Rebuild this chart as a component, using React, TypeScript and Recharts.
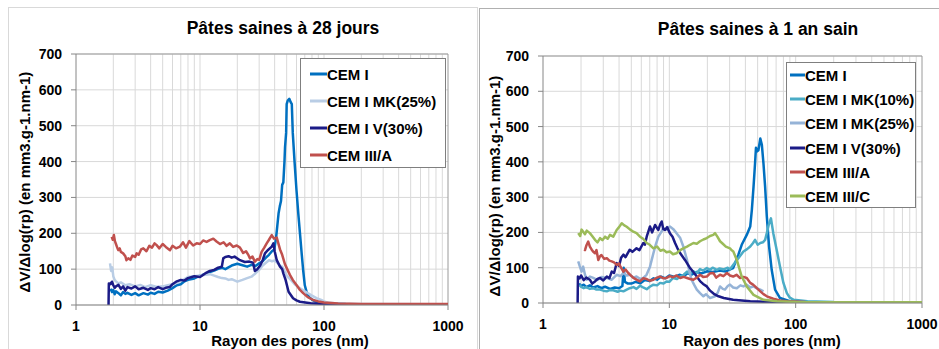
import React from "react";
import {
  LineChart,
  Line,
  XAxis,
  YAxis,
  CartesianGrid,
  ReferenceLine,
} from "recharts";

type Pair = [number, number];

const FONT = '"Liberation Sans", Arial, sans-serif';

// axes
const xTicks = [1, 10, 100, 1000];
const yTicks = [0, 100, 200, 300, 400, 500, 600, 700];
const minorX = [
  2, 3, 4, 5, 6, 7, 8, 9, 10, 20, 30, 40, 50, 60, 70, 80, 90, 100, 200, 300,
  400, 500, 600, 700, 800, 900,
];

const titles = ["Pâtes saines à 28 jours", "Pâtes saines à 1 an sain"];
const xLabel = "Rayon des pores (nm)";
const yLabel = "ΔV/Δlog(rp) (en mm3.g-1.nm-1)";

// --- 28 jours: [rayon nm, dV/dlog] ---
const cemI28: Pair[] = [
  [1.9, 45], [1.95, 36], [2.0, 42], [2.05, 30], [2.1, 38], [2.2, 33], [2.3, 27],
  [2.4, 36], [2.5, 31], [2.6, 34], [2.8, 28], [3.0, 33], [3.2, 27], [3.5, 33],
  [3.8, 29], [4.0, 34], [4.3, 31], [4.6, 37], [5.0, 35], [5.5, 40], [6.0, 47],
  [6.5, 55], [7.0, 58], [7.5, 66], [8.0, 70], [9.0, 74], [10, 82], [11, 86],
  [12, 92], [13, 96], [14, 101], [15, 104], [16, 100], [18, 110], [20, 115],
  [22, 111], [24, 107], [26, 112], [28, 109], [30, 116], [32, 122], [34, 132],
  [36, 140], [38, 150], [39.7, 155], [41, 185], [42, 220], [43, 255], [44, 275],
  [45, 290], [46, 335], [47, 342], [48, 400], [48.5, 440], [49.5, 480],
  [50, 560], [51, 570], [52.5, 575], [54, 565], [55, 560], [56, 480], [58, 395],
  [60, 320], [62, 256], [64, 200], [66, 145], [68, 95], [70, 55], [73, 32],
  [76, 22], [80, 15], [85, 10], [90, 7], [100, 5], [150, 3], [300, 2], [1000, 2],
];

const mk25_28: Pair[] = [
  [1.88, 116], [1.92, 95], [1.96, 105], [2.0, 80], [2.05, 70], [2.1, 66],
  [2.2, 60], [2.3, 63], [2.5, 55], [2.7, 58], [3.0, 52], [3.3, 56], [3.6, 50],
  [4.0, 55], [4.5, 50], [5.0, 52], [5.5, 55], [6.0, 58], [6.5, 62], [7.0, 68],
  [7.5, 72], [8.0, 78], [9.0, 80], [10, 82], [11, 84], [12, 86], [13, 82],
  [14, 78], [15, 75], [16, 74], [17, 70], [18, 72], [20, 65], [22, 70],
  [24, 75], [26, 79], [28, 88], [30, 98], [32, 110], [34, 118], [36, 125],
  [38, 122], [40, 124], [42, 118], [44, 110], [46, 107], [48, 95], [50, 82],
  [54, 70], [58, 58], [62, 50], [66, 44], [70, 38], [75, 32], [80, 26],
  [87, 19], [95, 14], [100, 10], [110, 6], [130, 4], [200, 3], [1000, 2],
];

const v30_28: Pair[] = [
  [1.83, 0], [1.84, 60], [1.9, 58], [1.95, 65], [2.0, 55], [2.05, 48],
  [2.1, 52], [2.2, 56], [2.3, 45], [2.4, 52], [2.5, 40], [2.6, 50], [2.8, 46],
  [3.0, 52], [3.2, 44], [3.5, 48], [3.8, 42], [4.0, 47], [4.3, 44], [4.6, 50],
  [5.0, 44], [5.3, 48], [5.7, 50], [6.0, 58], [6.5, 66], [7.0, 70], [7.5, 68],
  [8.0, 75], [9.0, 80], [10, 78], [11, 88], [12, 95], [13, 98], [14, 104],
  [15, 107], [15.4, 130], [16, 134], [17, 136], [18, 132], [19, 135], [21, 125],
  [23, 120], [25, 121], [26.8, 118], [27.7, 95], [29, 100], [30.6, 110],
  [32, 125], [33.4, 144], [35, 152], [37.9, 163], [39.1, 172], [40, 150],
  [41.6, 125], [44.2, 107], [46, 100], [47, 88], [49, 70], [51.8, 37],
  [56.3, 19], [60, 13], [64, 9], [78, 5], [100, 3], [200, 2], [1000, 2],
];

const cemIIIA28: Pair[] = [
  [1.94, 190], [1.98, 182], [2.02, 195], [2.06, 178], [2.1, 170], [2.15, 160],
  [2.19, 153], [2.25, 158], [2.3, 148], [2.4, 144], [2.5, 136], [2.55, 125],
  [2.64, 130], [2.75, 126], [2.85, 138], [3.0, 134], [3.08, 144], [3.2, 140],
  [3.35, 155], [3.49, 158], [3.7, 150], [3.9, 165], [4.1, 160], [4.3, 172],
  [4.47, 167], [4.7, 158], [5.0, 170], [5.3, 162], [5.73, 153], [6.0, 165],
  [6.4, 158], [6.9, 163], [7.3, 175], [7.7, 160], [8.2, 178], [8.8, 166],
  [9.4, 172], [10, 170], [10.6, 180], [11.3, 176], [12, 181], [12.8, 185],
  [13.6, 177], [14.5, 170], [15.5, 175], [16.4, 165], [17.4, 172], [18.5, 162],
  [19.8, 166], [21, 160], [22.3, 145], [23.5, 150], [24.6, 139], [25.3, 130],
  [26.5, 135], [27.7, 121], [29, 128], [30, 126], [31.4, 148], [33, 160],
  [34.5, 172], [36, 182], [37.9, 195], [39.5, 185], [41.6, 188], [43, 170],
  [44.2, 155], [46, 140], [48.4, 114], [50.5, 100], [53.1, 84], [56, 70],
  [60, 56], [64, 42], [67.9, 33], [74, 22], [81.8, 14], [90, 10], [100, 7],
  [130, 4], [200, 3], [1000, 3],
];

// --- 1 an: [rayon nm, dV/dlog] ---
const cemI1an: Pair[] = [
  [1.93, 55], [2.0, 48], [2.1, 52], [2.2, 45], [2.35, 50], [2.5, 44], [2.7, 48],
  [2.9, 42], [3.1, 46], [3.4, 40], [3.7, 44], [4.0, 42], [4.25, 48], [4.35, 100],
  [4.45, 60], [4.7, 55], [5.0, 55], [5.4, 60], [5.9, 56], [6.4, 65], [7.0, 62],
  [7.5, 70], [8.0, 66], [8.6, 75], [9.3, 70], [10, 78], [11, 74], [12, 80],
  [13, 76], [14, 85], [15, 80], [16.5, 88], [18, 84], [20, 90], [22, 88],
  [25, 92], [28, 89], [30, 95], [32, 99], [35.2, 137], [37.4, 165], [41, 193],
  [43.7, 217], [45, 264], [46.4, 330], [47.7, 396], [48.5, 440], [49.2, 429],
  [50.7, 433], [52.5, 466], [54, 448], [55.6, 396], [57.3, 330], [59.1, 245],
  [61.6, 160], [64.6, 94], [68.7, 38], [75.2, 14], [90, 5], [120, 3], [1000, 2],
];

const mk10_1an: Pair[] = [
  [1.94, 52], [2.0, 46], [2.1, 42], [2.2, 45], [2.35, 40], [2.5, 42],
  [2.65, 38], [2.83, 38], [3.0, 35], [3.2, 33], [3.4, 37], [3.6, 36], [3.9, 32],
  [4.1, 35], [4.33, 33], [4.6, 38], [4.86, 42], [5.2, 45], [5.5, 40],
  [5.86, 49], [6.2, 44], [6.62, 39], [7.0, 46], [7.48, 52], [8.0, 50],
  [8.44, 57], [9.0, 55], [9.5, 61], [10, 60], [10.7, 71], [11.5, 68],
  [12.2, 75], [13, 80], [13.8, 89], [14.5, 84], [15.5, 90], [16.5, 85],
  [17.5, 96], [18.5, 92], [19.8, 99], [21, 94], [22, 100], [23.8, 94], [25, 98],
  [27, 95], [29, 100], [30.2, 96], [32, 108], [35.2, 127], [38.6, 146],
  [41, 152], [43.7, 160], [46, 170], [47.7, 179], [50, 165], [52.5, 170],
  [55, 172], [57.3, 179], [59.1, 198], [61, 220], [63.7, 240], [66.5, 198],
  [70.7, 151], [75.2, 103], [80, 57], [85.2, 28], [90, 15], [96.5, 9],
  [124, 5], [200, 3], [1000, 2],
];

const mk25_1an: Pair[] = [
  [1.9, 118], [1.95, 105], [2.02, 89], [2.08, 103], [2.15, 80], [2.22, 66],
  [2.35, 75], [2.5, 71], [2.7, 65], [2.9, 74], [3.2, 71], [3.5, 66], [3.83, 80],
  [4.1, 76], [4.33, 85], [4.6, 78], [4.86, 80], [5.2, 72], [5.5, 75], [5.9, 68],
  [6.22, 71], [6.6, 80], [7.03, 103], [7.48, 141], [7.8, 165], [8.19, 188],
  [8.6, 200], [8.97, 212], [9.5, 208], [10.1, 217], [10.7, 210], [11.4, 198],
  [12.2, 184], [12.9, 160], [13.8, 122], [14.4, 90], [15, 66], [15.7, 52],
  [16.5, 38], [17.5, 28], [18.6, 19], [19.5, 25], [21, 14], [23, 19],
  [24.2, 30], [25.2, 47], [26.5, 40], [27.6, 38], [29, 48], [30.2, 52],
  [32, 44], [34.2, 42], [36.5, 50], [38.6, 47], [41, 52], [43.7, 44],
  [46.4, 47], [49, 42], [52.5, 38], [55.6, 33],
];

const v30_1an: Pair[] = [
  [1.88, 0], [1.89, 75], [1.95, 70], [2.0, 78], [2.1, 65], [2.2, 72],
  [2.35, 66], [2.45, 55], [2.58, 61], [2.7, 68], [2.83, 71], [3.0, 64],
  [3.2, 75], [3.35, 70], [3.5, 89], [3.65, 85], [3.83, 113], [4.0, 105],
  [4.15, 128], [4.33, 137], [4.5, 130], [4.86, 151], [5.1, 145], [5.5, 155],
  [5.8, 150], [6.22, 170], [6.4, 165], [6.62, 188], [7.03, 217], [7.3, 200],
  [7.71, 221], [8.0, 212], [8.19, 207], [8.45, 222], [8.7, 231], [8.95, 210],
  [9.23, 207], [9.6, 215], [10.1, 198], [10.6, 188], [11.1, 170], [11.6, 155],
  [12.2, 141], [13.3, 122], [14.6, 99], [15.5, 88], [16.5, 75], [17.5, 62],
  [18.5, 54], [19.8, 47], [21, 35], [22.5, 26], [24.5, 19], [27, 14], [32, 9],
  [43.7, 5], [60, 3], [100, 2], [1000, 2],
];

const cemIIIA1an: Pair[] = [
  [2.11, 151], [2.15, 150], [2.2, 162], [2.28, 174], [2.35, 160], [2.43, 151],
  [2.5, 145], [2.58, 141], [2.65, 150], [2.74, 122], [2.82, 132], [2.9, 136],
  [3.05, 125], [3.2, 127], [3.35, 120], [3.5, 118], [3.65, 115], [3.83, 108],
  [4.0, 112], [4.1, 103], [4.33, 89], [4.5, 95], [4.73, 85], [4.95, 78],
  [5.19, 71], [5.5, 66], [5.86, 61], [6.2, 70], [6.62, 68], [7.0, 63],
  [7.48, 66], [8.0, 72], [8.44, 75], [9.0, 70], [9.5, 71], [10.1, 76],
  [10.7, 73], [11.4, 78], [12.2, 71], [13, 74], [13.8, 71], [14.6, 68],
  [15.5, 66], [16.5, 72], [17.5, 80], [18.5, 74], [19.8, 75], [21, 84],
  [22.3, 85], [23.5, 72], [25.2, 80], [26.8, 76], [28.6, 85], [30.2, 78],
  [32, 75], [34, 80], [36.3, 71], [38.6, 74], [41, 71], [43.7, 57], [46, 52],
  [47.7, 47], [50, 40], [52.5, 33], [55.6, 25], [59.1, 19], [66.5, 12],
  [75, 7], [85, 5], [120, 3], [1000, 2],
];

const cemIIIC1an: Pair[] = [
  [1.9, 198], [1.97, 190], [2.02, 208], [2.08, 202], [2.15, 195], [2.22, 205],
  [2.35, 198], [2.45, 190], [2.58, 179], [2.7, 172], [2.83, 184], [2.95, 178],
  [3.1, 188], [3.25, 182], [3.39, 193], [3.6, 188], [3.83, 207], [4.0, 215],
  [4.2, 226], [4.4, 220], [4.6, 216], [4.9, 208], [5.19, 202], [5.5, 198],
  [5.86, 188], [6.2, 182], [6.62, 170], [7.0, 165], [7.48, 155], [8.0, 160],
  [8.5, 148], [8.97, 151], [9.5, 144], [10.1, 146], [10.7, 138], [11.4, 141],
  [12.2, 150], [12.9, 155], [13.8, 160], [14.6, 165], [15.5, 170], [16.5, 168],
  [17.5, 175], [18.6, 180], [19.8, 184], [21, 190], [22.3, 193], [23, 198],
  [24, 188], [25.2, 175], [26.5, 168], [28, 160], [30.2, 155], [31, 150],
  [32.1, 146], [34.2, 122], [37.4, 75], [41, 47], [46.4, 23], [55.6, 9],
  [71, 5], [100, 3], [1000, 2],
];

interface Series {
  name: string;
  color: string;
  data: Pair[];
}

const series28: Series[] = [
  { name: "CEM I", color: "#0070C0", data: cemI28 },
  { name: "CEM I MK(25%)", color: "#B9CDE5", data: mk25_28 },
  { name: "CEM I V(30%)", color: "#1B1B87", data: v30_28 },
  { name: "CEM III/A", color: "#C0504D", data: cemIIIA28 },
];

const series1an: Series[] = [
  { name: "CEM I", color: "#0070C0", data: cemI1an },
  { name: "CEM I MK(10%)", color: "#4BACC6", data: mk10_1an },
  { name: "CEM I MK(25%)", color: "#95B3D7", data: mk25_1an },
  { name: "CEM I V(30%)", color: "#1B1B87", data: v30_1an },
  { name: "CEM III/A", color: "#C0504D", data: cemIIIA1an },
  { name: "CEM III/C", color: "#9BBB59", data: cemIIIC1an },
];

interface PanelProps {
  left: number;
  title: string;
  series: Series[];
  margin: { top: number; right: number; bottom: number; left: number };
  titlePos: [number, number];
  yLabelPos: [number, number];
  xLabelPos: [number, number];
  legendBox: { left: number; top: number; width: number; height: number };
  legendFirst: number;
  legendRow: number;
  legendSwatch: [number, number];
}

const textBold: React.CSSProperties = {
  position: "absolute",
  fontFamily: FONT,
  fontWeight: "bold",
  color: "#000",
  whiteSpace: "nowrap",
  transform: "translate(-50%, -50%)",
  lineHeight: 1,
};

function Panel(p: PanelProps) {
  const tickStyle = {
    fill: "#000",
    fontSize: 14,
    fontWeight: "bold",
    fontFamily: FONT,
  };
  return (
    <div
      style={{
        position: "absolute",
        left: p.left,
        top: 0,
        width: 470,
        height: 349,
      }}
    >
      <LineChart width={470} height={349} margin={p.margin}>
        <CartesianGrid vertical={false} stroke="#d9d9d9" />
        {minorX.map((x) => (
          <ReferenceLine key={x} x={x} stroke="#d9d9d9" strokeWidth={1} />
        ))}
        <ReferenceLine y={700} stroke="#9a9a9a" />
        <ReferenceLine x={1000} stroke="#9a9a9a" />
        <XAxis
          dataKey="r"
          type="number"
          scale="log"
          domain={[1, 1000]}
          ticks={xTicks}
          allowDataOverflow
          height={30}
          stroke="#868686"
          tickSize={5}
          tickMargin={11}
          tick={tickStyle}
        />
        <YAxis
          type="number"
          domain={[0, 700]}
          ticks={yTicks}
          allowDataOverflow
          width={60}
          stroke="#868686"
          tickSize={5}
          tickMargin={9}
          tick={tickStyle}
        />
        {p.series.map((s) => (
          <Line
            key={s.name}
            name={s.name}
            data={s.data.map(([r, v]) => ({ r, v }))}
            dataKey="v"
            type="linear"
            stroke={s.color}
            strokeWidth={2.5}
            strokeLinejoin="round"
            dot={false}
            activeDot={false}
            isAnimationActive={false}
          />
        ))}
      </LineChart>
      <div style={{ ...textBold, left: p.titlePos[0], top: p.titlePos[1], fontSize: 17.5 }}>
        {p.title}
      </div>
      <div
        style={{
          ...textBold,
          left: p.yLabelPos[0],
          top: p.yLabelPos[1],
          fontSize: 15,
          transform: "translate(-50%, -50%) rotate(-90deg)",
        }}
      >
        {yLabel}
      </div>
      <div style={{ ...textBold, left: p.xLabelPos[0], top: p.xLabelPos[1], fontSize: 15 }}>
        {xLabel}
      </div>
      <div
        style={{
          position: "absolute",
          left: p.legendBox.left,
          top: p.legendBox.top,
          width: p.legendBox.width,
          height: p.legendBox.height,
          boxSizing: "border-box",
          border: "1px solid #7f7f7f",
          background: "#fff",
        }}
      >
        {p.series.map((s, i) => (
          <div
            key={s.name}
            style={{
              position: "absolute",
              left: p.legendSwatch[0],
              top: p.legendFirst + i * p.legendRow,
              transform: "translateY(-50%)",
              display: "flex",
              alignItems: "center",
              whiteSpace: "nowrap",
            }}
          >
            <span
              style={{
                display: "inline-block",
                width: p.legendSwatch[1],
                height: 3,
                background: s.color,
              }}
            />
            <span
              style={{
                fontFamily: FONT,
                fontWeight: "bold",
                fontSize: 15,
                lineHeight: 1,
                color: "#000",
              }}
            >
              {s.name}
            </span>
          </div>
        ))}
      </div>
    </div>
  );
}

export default function App() {
  return (
    <div
      style={{
        position: "absolute",
        left: 0,
        top: 0,
        width: 939,
        height: 349,
        overflow: "hidden",
        background: "#fff",
      }}
    >
      <div
        style={{
          position: "absolute",
          left: 8,
          top: 7,
          width: 468,
          height: 360,
          border: "1px solid #d9d9d9",
        }}
      />
      <div
        style={{
          position: "absolute",
          left: 479,
          top: 8,
          width: 480,
          height: 360,
          border: "1px solid #b0b0b0",
        }}
      />
      <Panel
        left={0}
        title={titles[0]}
        series={series28}
        margin={{ top: 54, right: 22, bottom: 14, left: 16 }}
        titlePos={[283, 29]}
        yLabelPos={[24, 182]}
        xLabelPos={[290, 339.5]}
        legendBox={{ left: 300, top: 58, width: 146, height: 110 }}
        legendFirst={14.5}
        legendRow={27.3}
        legendSwatch={[9, 17]}
      />
      <Panel
        left={469}
        title={titles[1]}
        series={series1an}
        margin={{ top: 56, right: 17, bottom: 16, left: 14 }}
        titlePos={[289, 30]}
        yLabelPos={[24.5, 186]}
        xLabelPos={[293, 339.5]}
        legendBox={{ left: 317, top: 62, width: 130, height: 146 }}
        legendFirst={12}
        legendRow={24.2}
        legendSwatch={[3, 15]}
      />
    </div>
  );
}
